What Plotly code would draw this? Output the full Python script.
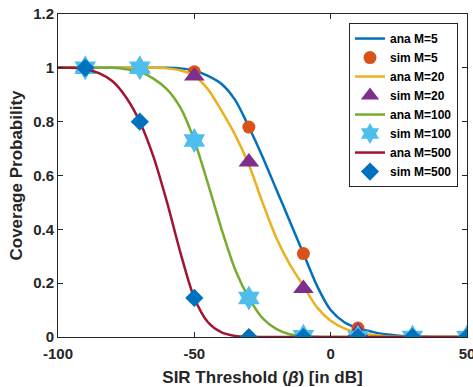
import plotly.graph_objects as go

# analytic curve sample points (x in dB)
x_ana = [-100, -95, -90, -85, -80, -75, -70, -65, -60, -55, -50, -45, -40, -35, -30,
         -25, -20, -15, -10, -5, 0, 5, 10, 15, 20, 25, 30, 35, 40, 45, 50]
ana_m5 = [1, 1, 1, 1, 1, 1, 1, 1, 1, 0.998, 0.99, 0.97, 0.94, 0.88, 0.78,
          0.67, 0.55, 0.43, 0.31, 0.19, 0.10, 0.055, 0.033, 0.02, 0.01, 0.005, 0.002, 0.001, 0, 0, 0]
ana_m20 = [1, 1, 1, 1, 1, 1, 1, 1, 0.998, 0.99, 0.97, 0.92, 0.84, 0.75, 0.64,
           0.50, 0.37, 0.27, 0.19, 0.11, 0.06, 0.032, 0.016, 0.008, 0.003, 0.001, 0, 0, 0, 0, 0]
ana_m100 = [1, 1, 1, 1, 1, 0.995, 0.985, 0.96, 0.92, 0.85, 0.73, 0.57, 0.40, 0.25, 0.145,
            0.07, 0.03, 0.01, 0.003, 0.001, 0, 0, 0, 0, 0, 0, 0, 0, 0, 0, 0]
ana_m500 = [1, 1, 0.995, 0.98, 0.95, 0.89, 0.80, 0.67, 0.50, 0.31, 0.145, 0.055, 0.017, 0.004, 0.001,
            0, 0, 0, 0, 0, 0, 0, 0, 0, 0, 0, 0, 0, 0, 0, 0]

# simulation points
x_sim = [-90, -70, -50, -30, -10, 10, 30, 50]
sim_m5 = [1, 1, 0.985, 0.78, 0.31, 0.033, 0, 0]
sim_m20 = [1, 1, 0.97, 0.65, 0.18, 0.02, 0, 0]
sim_m100 = [1, 1, 0.73, 0.145, 0.003, 0, 0, 0]
sim_m500 = [1, 0.80, 0.145, 0, 0, 0, 0, 0]

x_ticks = [-100, -50, 0, 50]
x_tick_text = ["-100", "-50", "0", "50"]
y_ticks = [0, 0.2, 0.4, 0.6, 0.8, 1, 1.2]
y_tick_text = ["0", "0.2", "0.4", "0.6", "0.8", "1", "1.2"]

FONT = "Liberation Sans"

fig = go.Figure()

series = [
    ("ana M=5", ana_m5, "sim M=5", sim_m5, "#0072BD", "#D95319", "circle", 13),
    ("ana M=20", ana_m20, "sim M=20", sim_m20, "#EDB120", "#7E2F8E", "triangle-up", 18),
    ("ana M=100", ana_m100, "sim M=100", sim_m100, "#77AC30", "#4DBEEE", "hexagram", 19),
    ("ana M=500", ana_m500, "sim M=500", sim_m500, "#A2142F", "#0072BD", "diamond", 14),
]

for ana_name, ana_y, sim_name, sim_y, lc, mc, sym, msz in series:
    fig.add_trace(go.Scatter(
        x=x_ana, y=ana_y, mode="lines", name=ana_name,
        line=dict(color=lc, width=2.5, shape="spline", smoothing=0.8),
    ))
    fig.add_trace(go.Scatter(
        x=x_sim, y=sim_y, mode="markers", name=sim_name,
        marker=dict(color=mc, symbol=sym, size=msz, line=dict(width=0)),
    ))

axis_common = dict(
    showline=True, linecolor="#262626", linewidth=1, mirror="allticks",
    ticks="inside", ticklen=5, tickcolor="#262626", tickwidth=1,
    showgrid=False, zeroline=False, automargin=False,
    ticklabeloverflow="allow",
    tickfont=dict(family=FONT, size=15, color="#262626", weight="bold"),
)

fig.update_xaxes(
    range=[-100, 50], tickvals=x_ticks, ticktext=x_tick_text,
    ticklabelstandoff=3,
    title=dict(text="SIR Threshold (<i>β</i>) [in dB]", standoff=12,
               font=dict(family=FONT, size=17, color="#262626", weight="bold")),
    **axis_common,
)
fig.update_yaxes(
    range=[0, 1.2], tickvals=y_ticks, ticktext=y_tick_text,
    title=dict(text="Coverage Probability", standoff=6,
               font=dict(family=FONT, size=17, color="#262626", weight="bold")),
    **axis_common,
)

fig.update_layout(
    width=473, height=387,
    margin=dict(l=58, r=6, t=14, b=50),
    paper_bgcolor="white", plot_bgcolor="white",
    showlegend=True,
    legend=dict(
        x=0.978, y=0.972, xanchor="right", yanchor="top",
        bgcolor="white", bordercolor="#262626", borderwidth=1,
        font=dict(family=FONT, size=12, color="black", weight="bold"),
        tracegroupgap=0, itemwidth=30,
    ),
)

fig.write_html("out.html")
